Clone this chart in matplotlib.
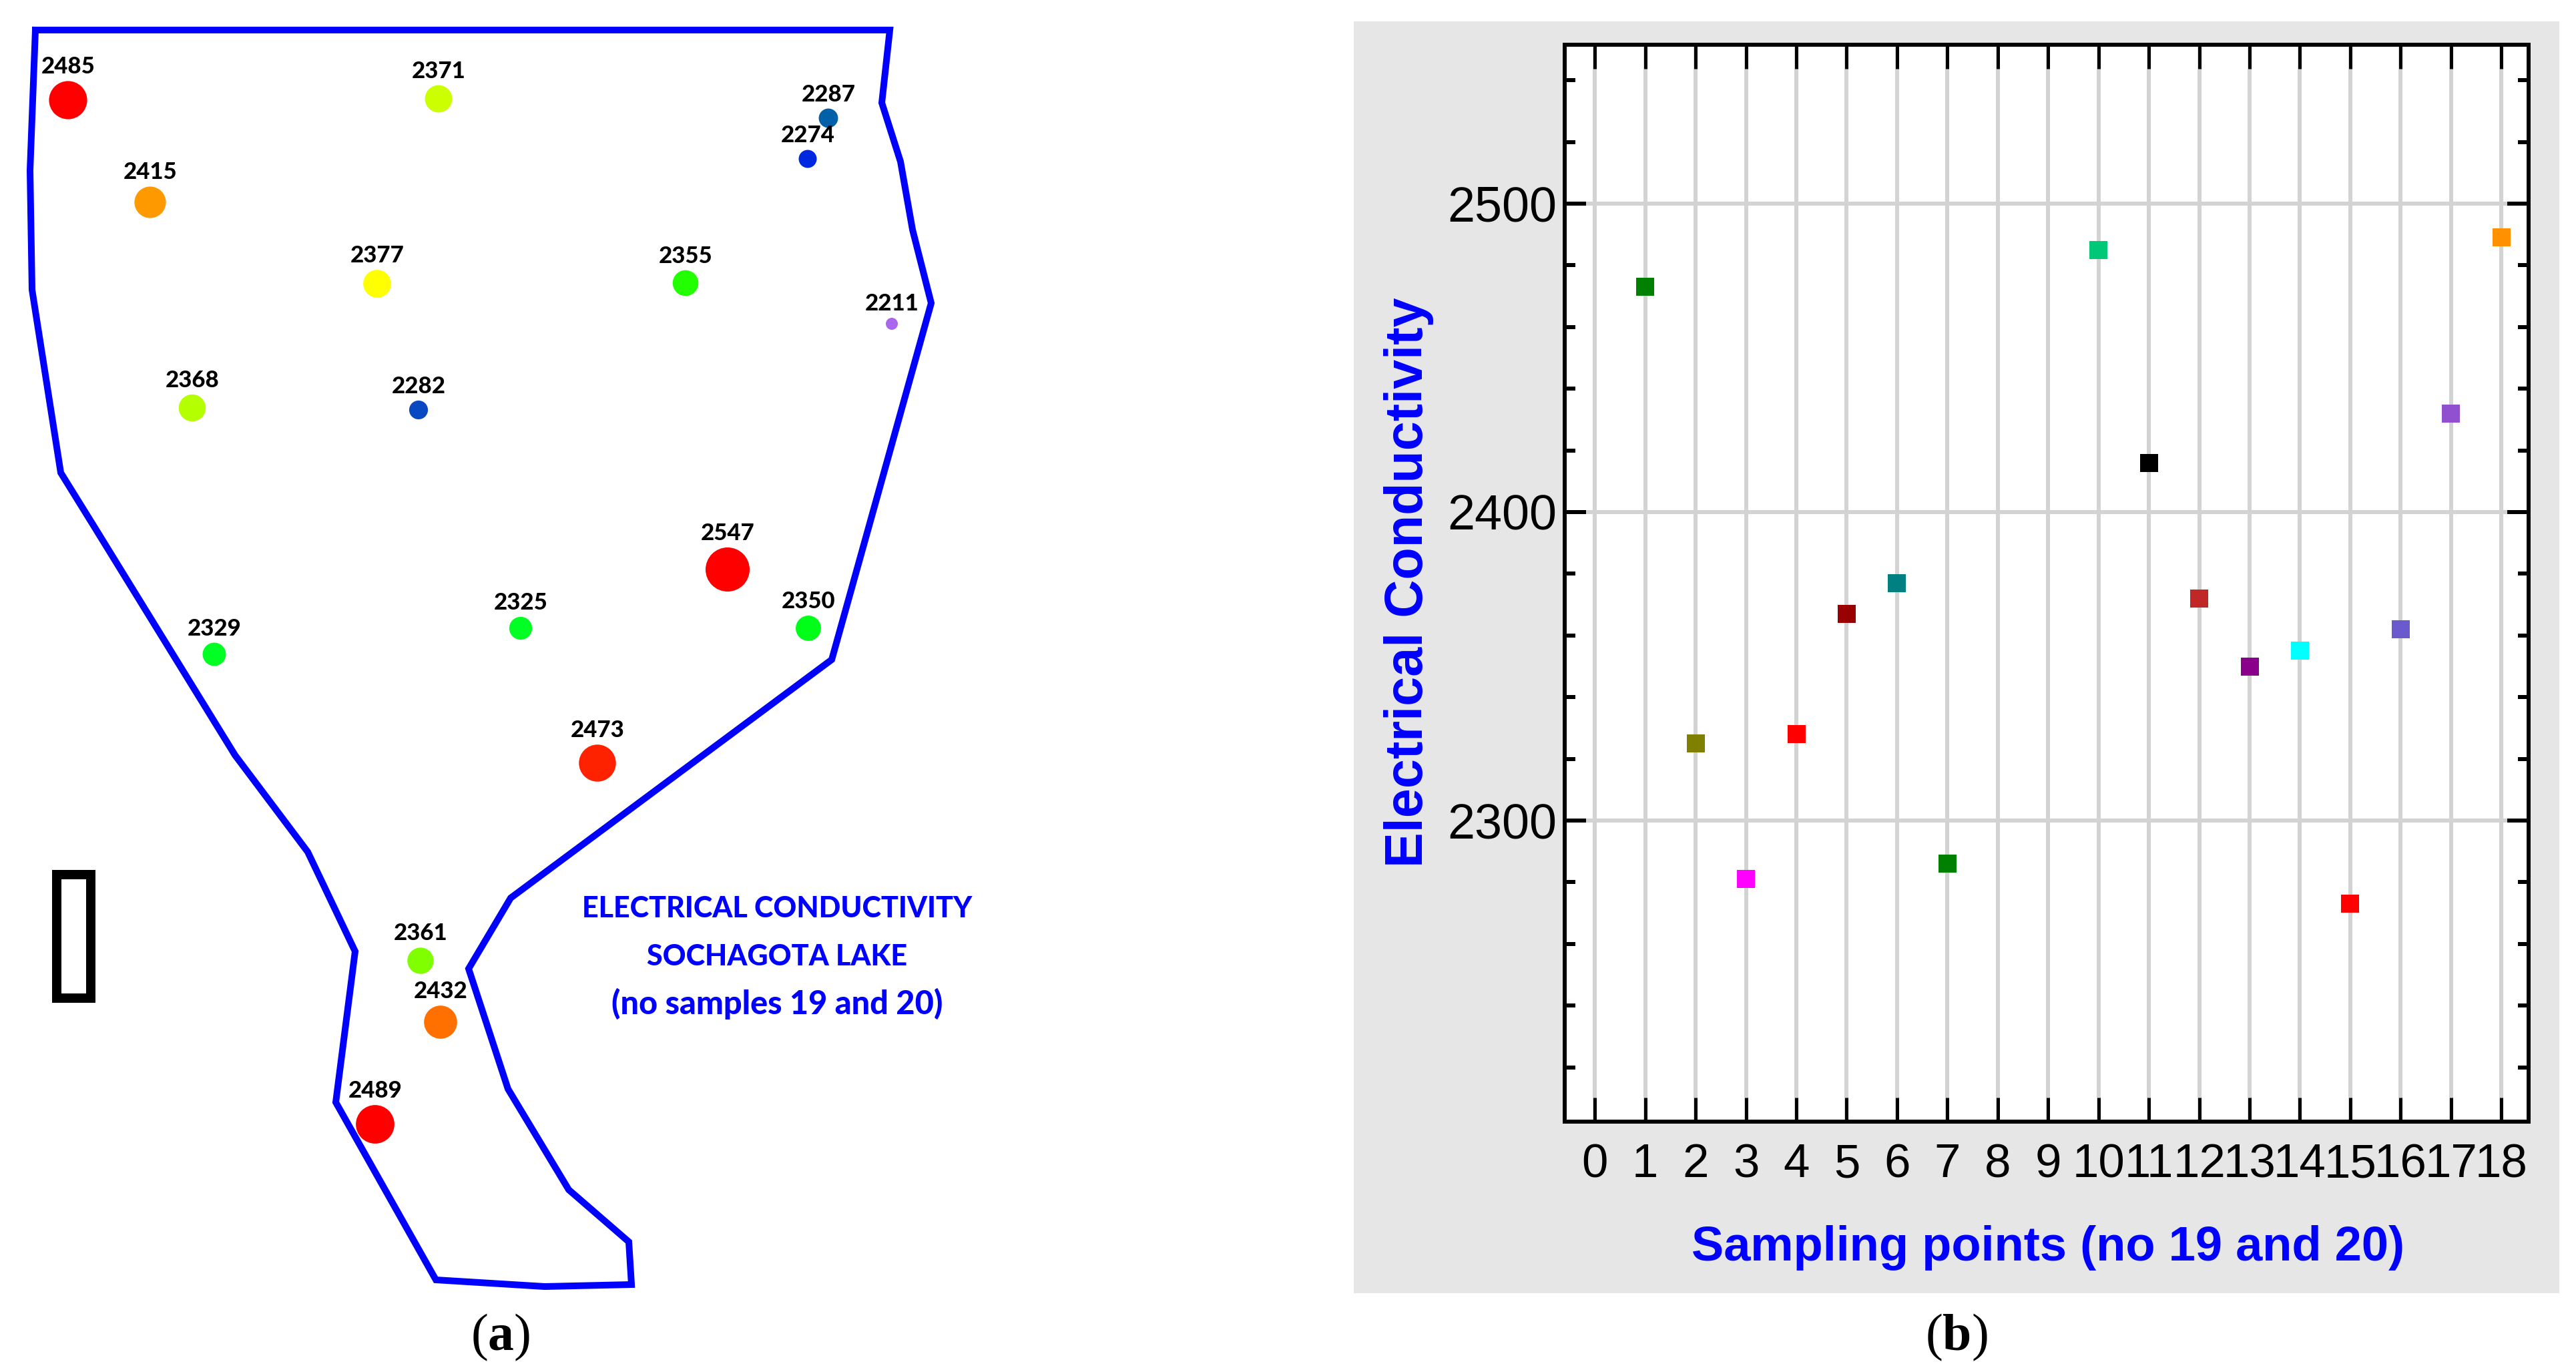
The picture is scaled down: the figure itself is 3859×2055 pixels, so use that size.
import matplotlib
matplotlib.use('Agg')
import matplotlib.pyplot as plt
from matplotlib.patches import Rectangle
from matplotlib.ticker import MultipleLocator

W, H = 3859, 2055
DPI = 100

# lake outline, traced in picture pixels
lake_x = [53, 1333, 1321, 1349, 1367, 1395, 1246, 765, 702, 761, 852, 942, 946, 816, 653, 503, 532, 461, 352, 140, 91, 48, 45, 53]
lake_y = [45, 45, 154, 242, 344, 454, 988, 1345, 1451, 1631, 1782, 1860, 1924, 1927, 1917, 1651, 1425, 1276, 1131, 787, 708, 434, 255, 45]

# sampling sites on the map
site_x = [102, 657, 1241, 1210, 225, 565, 1027, 1336, 288, 627, 1090, 780, 1211, 321, 895, 630, 660, 562]
site_y = [150, 148, 177, 238, 303, 425, 424, 485, 611, 614, 853, 941, 941, 980, 1143, 1439, 1531, 1684]
site_ec = [2485, 2371, 2287, 2274, 2415, 2377, 2355, 2211, 2368, 2282, 2547, 2325, 2350, 2329, 2473, 2361, 2432, 2489]
site_colors = ['#ff0000', '#ccff00', '#0060a8', '#0028e0', '#ff9900', '#ffff00', '#22ff00', '#aa66ee', '#b4ff00',
               '#0848c0', '#ff0000', '#00ff22', '#00ff18', '#00ff22', '#ff2200', '#80ff00', '#ff7000', '#ff0000']

# scatter panel
sample_no = [1, 2, 3, 4, 5, 6, 7, 10, 11, 12, 13, 14, 15, 16, 17, 18]
sample_ec = [2473, 2325, 2281, 2328, 2367, 2377, 2286, 2485, 2416, 2372, 2350, 2355, 2273, 2362, 2432, 2489]
sample_colors = ['#008000', '#808000', '#ff00ff', '#ff0000', '#990000', '#008080', '#008000', '#00c878',
                 '#000000', '#c02828', '#8b008b', '#00ffff', '#ff0000', '#6a5acd', '#9050d0', '#ff9000']

map_title = ['ELECTRICAL CONDUCTIVITY', 'SOCHAGOTA LAKE', '(no samples 19 and 20)']
map_title_size = [31, 31, 35]

plt.rcParams['mathtext.fontset'] = 'custom'
plt.rcParams['mathtext.rm'] = 'Liberation Serif'
plt.rcParams['mathtext.bf'] = 'Liberation Serif:bold'


def px(n):
    # picture pixels to points
    return n * 72 / DPI


fig = plt.figure(figsize=(W / DPI, H / DPI), dpi=DPI, facecolor='white')

# whole picture axes in pixel coordinates, holds the map and the grey card
ax_map = fig.add_axes([0, 0, 1, 1])
ax_map.set_xlim(0, W)
ax_map.set_ylim(H, 0)
ax_map.axis('off')

ax_map.add_patch(Rectangle((2028, 32), 1806, 1905, facecolor='#e6e6e6', edgecolor='none', zorder=0))

ax_map.plot(lake_x, lake_y, color='#0000ff', lw=px(10), solid_joinstyle='miter', zorder=2)

# bubble size follows the conductivity value
diam = [18 + (v - 2211) * 0.143 for v in site_ec]
ax_map.scatter(site_x, site_y, s=[px(d) ** 2 for d in diam], c=site_colors, linewidths=0, zorder=3)

for x, y, v, d in zip(site_x, site_y, site_ec, diam):
    ax_map.text(x, y - d / 2 - 5, str(v), ha='center', va='bottom', family='Lato', weight='black',
                fontsize=25, color='black', zorder=4)

# scale bar box
ax_map.add_patch(Rectangle((85, 1310), 51, 185, facecolor='white', edgecolor='black', linewidth=px(14), zorder=2))

for y, line, size in zip([1361, 1433, 1503], map_title, map_title_size):
    ax_map.text(1164, y, line, ha='center', va='center', family='Lato', weight='black', fontsize=size, color='#0000ff')

ax_map.text(750, 2003, r'($\mathbf{a}$)', ha='center', va='center', family='Liberation Serif', fontsize=56)
ax_map.text(2931, 2003, r'($\mathbf{b}$)', ha='center', va='center', family='Liberation Serif', fontsize=56)

# panel b
left, right, top, bottom = 2344, 3788, 67, 1680
ax = fig.add_axes([left / W, 1 - bottom / H, (right - left) / W, (bottom - top) / H], facecolor='white')
ax.set_xlim(-0.6, 18.54)
ax.set_ylim(2202.4, 2551.5)

ax.scatter(sample_no, sample_ec, marker='s', s=px(27) ** 2, c=sample_colors, linewidths=0, zorder=3)

ax.set_xticks(range(0, 19))
ax.yaxis.set_major_locator(MultipleLocator(100))
ax.yaxis.set_minor_locator(MultipleLocator(20))
ax.grid(True, which='major', color='#d3d3d3', lw=px(6), zorder=1)
ax.set_axisbelow(True)

ax.tick_params(axis='x', which='major', direction='in', top=True, bottom=True, length=px(36), width=px(5),
               pad=px(32), labelsize=51, color='black')
ax.tick_params(axis='y', which='major', direction='in', left=True, right=True, length=px(32), width=px(6),
               pad=px(12), labelsize=53, color='black')
ax.tick_params(axis='y', which='minor', direction='in', left=True, right=True, length=px(16), width=px(6))
for lab in ax.get_xticklabels() + ax.get_yticklabels():
    lab.set_family('Liberation Sans')

for side in ax.spines.values():
    side.set_linewidth(px(6))
    side.set_zorder(5)

ax.set_xlabel('Sampling points (no 19 and 20)', family='Liberation Sans', weight='bold', fontsize=52,
              color='#0000ff', va='center')
ax.xaxis.set_label_coords((3068 - left) / (right - left), -(1869 - bottom) / (bottom - top))
ax.set_ylabel('Electrical Conductivity', family='Liberation Sans', weight='bold', fontsize=57,
              color='#0000ff', va='center')
ax.yaxis.set_label_coords((2110 - left) / (right - left), (bottom - 872) / (bottom - top))

fig.savefig('out.png', dpi=DPI)
